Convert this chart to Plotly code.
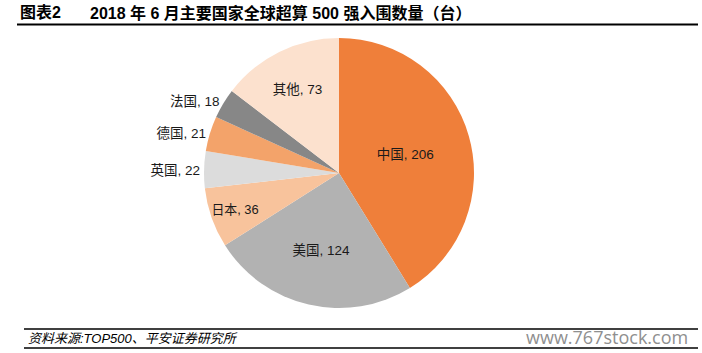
import plotly.graph_objects as go

labels = ["中国", "美国", "日本", "英国", "德国", "法国", "其他"]
values = [206, 124, 36, 22, 21, 18, 73]
colors = ["#EF7F3A", "#B2B2B2", "#F8C39C", "#DCDCDC", "#F3A36A", "#878787", "#FCE1CE"]
positions = ["inside", "inside", "inside", "outside", "outside", "outside", "inside"]

title_left = "图表2"
title_main = "2018 年 6 月主要国家全球超算 500 强入围数量（台）"
source = "资料来源:TOP500、平安证券研究所"
watermark = "www.767stock.com"

W, H = 702, 353
cx, cy, r = 339, 173, 135

fig = go.Figure(go.Pie(
    labels=labels, values=values, sort=False, direction="clockwise", rotation=0,
    marker=dict(colors=colors, line=dict(width=0)),
    texttemplate="%{label}, %{value}", textposition=positions,
    insidetextorientation="horizontal",
    textfont=dict(family="Liberation Sans, Noto Sans CJK SC", size=13.5, color="#1a1a1a"),
    hoverinfo="label+value", showlegend=False,
    domain=dict(x=[(cx - r) / W, (cx + r) / W], y=[(H - cy - r) / H, (H - cy + r) / H]),
))

font_cjk = "Liberation Sans, Noto Sans CJK SC"
ann = [
    dict(text="<b>" + title_left + "</b>", x=18 / W, y=1 - 13 / H, xanchor="left", yanchor="middle",
         font=dict(family=font_cjk, size=16, color="#000")),
    dict(text="<b>" + title_main + "</b>", x=88 / W, y=1 - 13 / H, xanchor="left", yanchor="middle",
         font=dict(family=font_cjk, size=16, color="#000")),
    dict(text="<i>" + source + "</i>", x=26 / W, y=1 - 338 / H, xanchor="left", yanchor="middle",
         font=dict(family=font_cjk, size=13, color="#000")),
    dict(text=watermark, x=690 / W, y=1 - 337 / H, xanchor="right", yanchor="middle",
         font=dict(family="Open Sans", size=18, color="#8f8f8f")),
]
for a in ann:
    a.update(xref="paper", yref="paper", showarrow=False)

shapes = [
    dict(type="line", xref="paper", yref="paper", x0=17 / W, x1=698 / W, y0=1 - 24.5 / H, y1=1 - 24.5 / H,
         line=dict(color="#000", width=2)),
    dict(type="line", xref="paper", yref="paper", x0=24 / W, x1=698 / W, y0=1 - 329 / H, y1=1 - 329 / H,
         line=dict(color="#000", width=1.3)),
    dict(type="line", xref="paper", yref="paper", x0=24 / W, x1=698 / W, y0=1 - 348 / H, y1=1 - 348 / H,
         line=dict(color="#000", width=1.3)),
]

fig.update_layout(width=W, height=H, margin=dict(l=0, r=0, t=0, b=0),
                  paper_bgcolor="white", plot_bgcolor="white",
                  annotations=ann, shapes=shapes)
fig.write_html("out.html")
